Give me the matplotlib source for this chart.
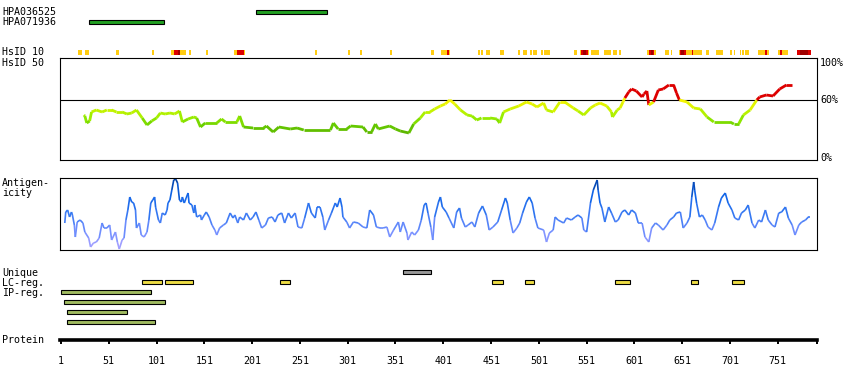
import numpy as np
import matplotlib
matplotlib.use('Agg')
import matplotlib.pyplot as plt
from matplotlib.collections import LineCollection
from matplotlib.colors import LinearSegmentedColormap, Normalize

W, H = 850, 380
PROT_LEN = 792
FONT = 'DejaVu Sans Mono'
FS = 7.2

# antibodies
ab_names = ['HPA036525', 'HPA071936']
ab_start = [205, 30]
ab_end = [279, 109]

# HsID 10 strip (residue spans)
gold_spans = [(19, 23), (26.5, 30), (58.6, 61.4), (96.3, 98), (116, 119), (125.5, 131.5),
              (135, 136.7), (152.8, 154.5), (182.4, 185.2), (192.2, 193.6), (266.8, 268.5),
              (301.3, 303.1), (313.9, 315.6), (345.3, 347), (388.2, 391), (398.6, 404.6),
              (406.7, 407.7), (437, 439.1), (440.5, 442.2), (445.7, 449.9), (460.3, 464.2),
              (478.9, 481), (484.4, 488.3), (491.4, 493.8), (495.2, 499.1), (502.9, 505),
              (506.7, 512.7), (538.1, 540.6), (544, 545.4), (552.1, 553.8), (555.2, 563.9),
              (569.5, 576.2), (578.9, 582.4), (585.2, 587.3), (614.5, 616.2), (621.8, 623.3),
              (632.9, 637.1), (638.9, 640.6), (647.6, 648.7), (654.7, 661), (662.6, 671.7),
              (675.6, 679), (686.3, 693.9), (701, 703.1), (704.9, 706.5), (711.4, 712.8),
              (713.9, 715.6), (716.7, 720.9), (730.6, 737.6), (739.7, 741.5), (751.5, 753.3),
              (755.4, 761.3)]
red_spans = [(119, 123.8), (185.2, 192.2), (404.6, 406.7), (545.4, 552.1), (616.2, 621.8),
             (648.7, 654.7), (661, 662.6), (737.6, 739.7), (753.3, 755.4), (770.8, 785.8)]
darkred_spans = [(123.8, 125.5), (547.5, 550.3), (618, 620), (650, 653), (774.3, 782.7)]

# HsID 50 identity curve (%)
id_res = [25, 26, 28, 31, 33, 38, 44, 49, 54, 59, 65, 70, 75, 80, 86, 91, 96, 101, 105, 110,
          115, 120, 125, 128, 134, 140, 143, 147, 152, 164, 169, 173, 185, 188, 192, 202, 213,
          216, 223, 229, 241, 248, 255, 283, 286, 291, 300, 304, 317, 321, 326, 330, 333, 345,
          351, 356, 365, 370, 377, 382, 387, 392, 398, 403, 408, 413, 419, 426, 431, 436, 441,
          450, 457, 460, 464, 471, 480, 488, 494, 499, 506, 509, 516, 523, 528, 537, 542, 548,
          555, 560, 565, 572, 577, 578, 583, 586, 589, 591, 595, 598, 603, 609, 611, 614, 616,
          621, 626, 631, 637, 642, 645, 648, 656, 663, 670, 677, 684, 701, 705, 710, 715, 722,
          729, 732, 739, 746, 753, 760, 766]
id_val = [45, 44, 37, 39, 48, 50, 48, 50, 50, 48, 48, 46, 47, 50, 42, 35, 39, 42, 47, 46,
          47, 46, 49, 38, 41, 43, 42, 33, 37, 37, 41, 38, 38, 44, 33, 32, 32,
          34, 28, 33, 31, 32, 30, 30, 37, 31, 31, 34, 33, 28, 28, 36, 31, 34,
          31, 29, 27, 36, 42, 48, 48, 51, 54, 56, 60, 56, 50, 45, 44, 40, 42,
          42, 41, 37, 48, 51, 54, 58, 56, 53, 57, 50, 48, 58, 58, 52, 49, 45,
          52, 55, 57, 54, 48, 43, 50, 52, 58, 62, 68, 71, 69, 63, 66, 69, 55,
          58, 70, 71, 75, 75, 67, 60, 58, 52, 51, 43, 38, 38, 36, 36, 45, 50,
          60, 63, 65, 64, 71, 75, 75]

# antigenicity
ag_res = [5, 6, 8, 10, 12, 13, 15, 16, 18, 21, 24, 26, 30, 32, 35, 38, 41, 44, 46, 49, 52, 54,
          58, 60, 62, 65, 67, 69, 71, 73, 75, 77, 79, 80, 83, 85, 88, 91, 93, 95, 97, 99, 100,
          103, 105, 107, 110, 112, 113, 115, 117, 119, 121, 123, 125, 127, 128, 130, 132, 134,
          135, 138, 140, 141, 143, 147, 148, 151, 153, 156, 159, 162, 164, 167, 171, 174, 178,
          181, 183, 186, 188, 192, 195, 199, 202, 205, 208, 211, 215, 218, 222, 225, 228, 232,
          235, 239, 242, 246, 249, 253, 256, 260, 263, 267, 269, 272, 275, 277, 281, 284, 288,
          290, 293, 295, 296, 300, 303, 307, 312, 317, 321, 324, 328, 331, 335, 338, 342, 345,
          349, 354, 356, 359, 363, 364, 368, 371, 375, 378, 381, 383, 385, 388, 390, 392, 396,
          398, 400, 404, 407, 412, 415, 418, 420, 424, 427, 431, 434, 438, 442, 446, 449, 453,
          458, 462, 466, 468, 471, 474, 478, 481, 484, 488, 491, 494, 497, 500, 506, 509, 512,
          516, 518, 521, 527, 530, 535, 539, 542, 546, 548, 551, 555, 558, 562, 563, 565, 567,
          570, 574, 577, 581, 584, 588, 591, 595, 598, 602, 605, 609, 612, 616, 619, 623, 626,
          631, 635, 638, 642, 645, 649, 652, 656, 659, 661, 663, 664, 666, 669, 672, 675, 678,
          682, 685, 689, 692, 696, 699, 703, 706, 710, 713, 717, 720, 724, 727, 731, 734, 738,
          741, 745, 748, 752, 755, 759, 762, 766, 769, 773, 776, 780, 783, 785]
ag_val = [27, 38, 40, 33, 38, 35, 25, 13, 28, 30, 27, 18, 12, 3, 7, 8, 12, 27, 22, 22, 25, 10,
          18, 8, 1, 10, 12, 30, 40, 53, 48, 47, 40, 22, 27, 15, 13, 18, 30, 47, 50, 53, 43,
          30, 27, 37, 35, 40, 47, 50, 60, 70, 71, 67, 50, 48, 53, 47, 52, 57,
          47, 45, 37, 45, 33, 35, 30, 35, 38, 33, 25, 20, 15, 22, 25, 27, 37,
          32, 35, 27, 33, 30, 37, 30, 33, 38, 30, 22, 25, 32, 33, 28, 35, 37,
          27, 37, 32, 37, 23, 22, 32, 47, 37, 32, 43, 43, 33, 20, 30, 37, 47,
          43, 52, 43, 33, 28, 22, 28, 27, 23, 22, 40, 35, 23, 22, 22, 23, 13,
          20, 28, 18, 28, 17, 10, 18, 15, 20, 30, 45, 47, 37, 23, 10, 33, 48,
          53, 43, 38, 32, 22, 38, 42, 32, 23, 25, 28, 23, 37, 44, 35, 20, 23,
          28, 40, 52, 47, 30, 17, 22, 27, 37, 48, 53, 47, 32, 22, 20, 8, 17,
          20, 33, 30, 27, 32, 30, 33, 35, 32, 20, 18, 47, 60, 70, 60, 47, 42,
          28, 43, 37, 28, 30, 38, 40, 35, 40, 37, 27, 27, 13, 8, 22, 27, 25,
          20, 25, 30, 33, 37, 38, 22, 27, 33, 53, 68, 60, 47, 33, 35, 30, 23,
          20, 27, 43, 52, 57, 47, 40, 32, 30, 37, 40, 45, 27, 22, 30, 28, 40,
          30, 25, 23, 37, 38, 43, 32, 25, 15, 25, 28, 30, 33, 33]

# region rows
unique_start, unique_end = [359], [388]
lc_start = [86, 110, 230, 452, 486, 581, 660, 703]
lc_end = [107, 139, 241, 464, 496, 596, 667, 716]
ip_start = [1, 4, 7, 7]
ip_end = [95, 110, 70, 99]

prot_ticks = [1, 51, 101, 151, 201, 251, 301, 351, 401, 451, 501, 551, 601, 651, 701, 751]

fig = plt.figure(figsize=(W / 100, H / 100), dpi=100)


def px_axes(x0, y0, x1, y1):
    ax = fig.add_axes([x0 / W, 1 - y1 / H, (x1 - x0) / W, (y1 - y0) / H])
    ax.set_xlim(0, PROT_LEN)
    return ax


def label(x, y, s, **kw):
    fig.text(x / W, 1 - y / H, s, family=FONT, fontsize=FS, va='center', **kw)


def track(y_first, nrows):
    ax = px_axes(60, y_first - 5, 817, y_first - 5 + 10 * nrows)
    ax.set_ylim(nrows - 0.5, -0.5)
    ax.axis('off')
    return ax


def bars(ax, row, starts, ends, color):
    ax.barh([row] * len(starts), np.subtract(ends, starts), left=starts, height=0.42,
            color=color, edgecolor='black', linewidth=0.8)


# antibody track
ax = track(12.3, 2)
for i, name in enumerate(ab_names):
    bars(ax, i, [ab_start[i]], [ab_end[i]], '#22a022')
label(2, 12.3, ab_names[0])
label(2, 22.3, ab_names[1])

# HsID 10 strip
ax = px_axes(60, 50, 817, 55)
ax.set_ylim(0, 1)
ax.axis('off')
for spans, c in [(gold_spans, '#ffcc11'), (red_spans, '#dd0000'), (darkred_spans, '#a00000')]:
    s = np.array(spans)
    ax.barh([0.5] * len(s), s[:, 1] - s[:, 0], left=s[:, 0], height=1, color=c, linewidth=0)
label(2, 52, 'HsID 10')
label(2, 62.5, 'HsID 50')

# HsID 50 plot
ax = px_axes(60, 58, 817, 160)
ax.set_ylim(0, 102)
ax.set_xticks([])
ax.set_yticks([])
for sp in ax.spines.values():
    sp.set_linewidth(0.8)
ax.axhline(60, color='black', lw=0.8)
green = LinearSegmentedColormap.from_list('g', ['#5cb000', '#66cc00', '#99ee00', '#ccf400', '#f4f400'])
gnorm = Normalize(26, 59)
pts = np.column_stack([id_res, id_val])
segs = np.stack([pts[:-1], pts[1:]], axis=1)
mids = (np.array(id_val[:-1]) + np.array(id_val[1:])) / 2
cols = [('#dd0000' if m > 60 else green(gnorm(m))) for m in mids]
ax.add_collection(LineCollection(segs, colors=cols, linewidths=2))
for v, t in [(97.3, '100%'), (60, '60%'), (1.7, '0%')]:
    ax.text(1.004, v, t, transform=ax.get_yaxis_transform(), family=FONT, fontsize=FS, va='center')

# antigenicity
ax = px_axes(60, 178, 817, 250)
ax.set_ylim(0, 72)
ax.set_xticks([])
ax.set_yticks([])
for sp in ax.spines.values():
    sp.set_linewidth(0.8)
blue = LinearSegmentedColormap.from_list('b', ['#b0a4ff', '#7590ff', '#3578f2', '#0f64e8', '#003a99'])
bnorm = Normalize(0, 72)
pts = np.column_stack([ag_res, ag_val])
segs = np.stack([pts[:-1], pts[1:]], axis=1)
mids = (np.array(ag_val[:-1]) + np.array(ag_val[1:])) / 2
ax.add_collection(LineCollection(segs, colors=blue(bnorm(mids)), linewidths=1.2))
label(2, 183, 'Antigen-')
label(2, 193, 'icity')

# Unique / LC / IP rows
ax = track(272.3, 6)
bars(ax, 0, unique_start, unique_end, '#999999')
bars(ax, 1, lc_start, lc_end, '#eedd44')
for i in range(len(ip_start)):
    bars(ax, 2 + i, [ip_start[i]], [ip_end[i]], '#a0bb60')
label(2, 273, 'Unique')
label(2, 283, 'LC-reg.')
label(2, 293, 'IP-reg.')

# protein axis
ax = px_axes(60, 330, 817, 340)
ax.set_yticks([])
for k in ['top', 'left', 'right']:
    ax.spines[k].set_visible(False)
ax.spines['bottom'].set_linewidth(2.6)
ax.patch.set_visible(False)
ax.set_xticks(prot_ticks)
ax.set_xticks([PROT_LEN], minor=True)
ax.tick_params(axis='x', which='both', direction='out', length=3.2, width=1.4, pad=8)
ax.set_xticklabels([str(t) for t in prot_ticks], family=FONT, fontsize=FS)
label(2, 340, 'Protein')

fig.savefig('out.png', dpi=100)
